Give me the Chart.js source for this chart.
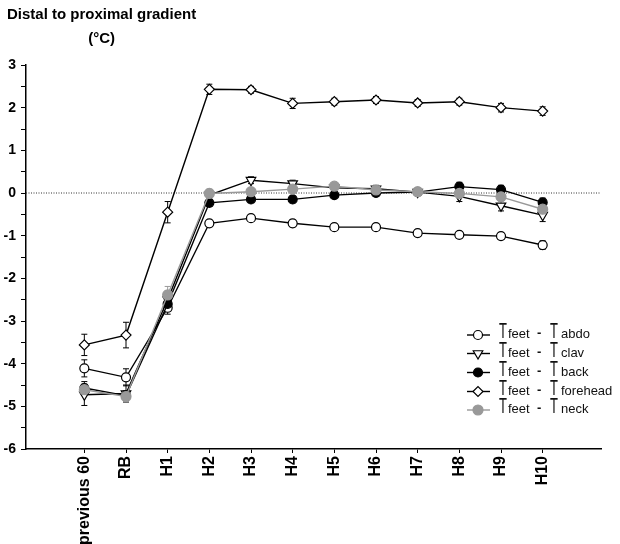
<!DOCTYPE html>
<html>
<head>
<meta charset="utf-8">
<script src="https://cdn.jsdelivr.net/npm/chart.js@4.4.0/dist/chart.umd.min.js"></script>
<style>
  html, body { margin: 0; padding: 0; background: #fff; }
  canvas { display: block; }
</style>
</head>
<body>
<canvas id="chart" width="620" height="544"></canvas>
<script>
// categories on the x axis
const categories = ['previous 60', 'RB', 'H1', 'H2', 'H3', 'H4', 'H5', 'H6', 'H7', 'H8', 'H9', 'H10'];
const titleLines = ['Distal to proximal gradient', '(°C)'];

// mean values (°C) and error bars
const abdo        = [-4.11, -4.32, -2.69, -0.71, -0.59, -0.71, -0.80, -0.80, -0.94, -0.98, -1.01, -1.22];
const abdoErr     = [0.20, 0.20, 0.15, 0.07, 0.05, 0.08, 0.06, 0.07, 0.06, 0.06, 0.08, 0.10];
const clav        = [-4.73, -4.70, -2.50, -0.05, 0.30, 0.22, 0.12, 0.10, 0.02, -0.08, -0.30, -0.52];
const clavErr     = [0.25, 0.20, 0.20, 0.10, 0.08, 0.08, 0.08, 0.08, 0.08, 0.12, 0.12, 0.15];
const back        = [-4.57, -4.75, -2.60, -0.23, -0.15, -0.15, -0.05, 0.00, 0.02, 0.15, 0.08, -0.22];
const backErr     = [0.15, 0.12, 0.12, 0.08, 0.07, 0.08, 0.07, 0.07, 0.08, 0.10, 0.10, 0.10];
const forehead    = [-3.56, -3.33, -0.45, 2.43, 2.42, 2.10, 2.14, 2.18, 2.11, 2.14, 2.00, 1.92];
const foreheadErr = [0.25, 0.30, 0.25, 0.12, 0.08, 0.12, 0.08, 0.08, 0.08, 0.08, 0.10, 0.10];
const neck        = [-4.61, -4.77, -2.39, -0.01, 0.03, 0.09, 0.16, 0.07, 0.03, -0.01, -0.09, -0.38];
const neckErr     = [0.12, 0.12, 0.20, 0.10, 0.08, 0.08, 0.08, 0.08, 0.08, 0.08, 0.08, 0.10];

const X_MIN = -1.4, X_MAX = 12.4;
const FONT = '"Liberation Sans", Arial, sans-serif';

function pts(vals) { return vals.map((v, i) => ({ x: i, y: v })); }

const series = [
  { sub: 'abdo',     data: abdo,     err: abdoErr,     style: 'circle',   rot: 0,   fill: '#fff', color: '#000', r: 4.5, order: 3 },
  { sub: 'clav',     data: clav,     err: clavErr,     style: 'triangle', rot: 180, fill: '#fff', color: '#000', r: 5.5, order: 2 },
  { sub: 'back',     data: back,     err: backErr,     style: 'circle',   rot: 0,   fill: '#000', color: '#000', r: 4.5, order: 1 },
  { sub: 'forehead', data: forehead, err: foreheadErr, style: 'rectRot',  rot: 0,   fill: '#fff', color: '#000', r: 5,   order: 4 },
  { sub: 'neck',     data: neck,     err: neckErr,     style: 'circle',   rot: 0,   fill: '#999', color: '#999', r: 5,   order: 0 }
];

const datasets = series.map(s => ({
  label: 'Tfeet - T' + s.sub,
  data: pts(s.data),
  errors: s.err,
  order: s.order,
  borderColor: s.color,
  borderWidth: 1.4,
  backgroundColor: s.fill,
  pointStyle: s.style,
  pointRotation: s.rot,
  pointRadius: s.r,
  pointBorderWidth: 1.2,
  pointBorderColor: s.color,
  pointBackgroundColor: s.fill,
  tension: 0
}));

// dotted zero reference line
datasets.push({
  label: 'zero',
  data: [{ x: X_MIN, y: 0 }, { x: X_MAX, y: 0 }],
  borderColor: '#333',
  borderWidth: 1,
  borderDash: [1, 1.5],
  pointRadius: 0,
  order: 10
});

const errorBars = {
  id: 'errorBars',
  beforeDatasetsDraw(chart) {
    const ctx = chart.ctx, xs = chart.scales.x, ys = chart.scales.y;
    chart.data.datasets.forEach(ds => {
      if (!ds.errors) return;
      ctx.save();
      ctx.strokeStyle = ds.borderColor;
      ctx.lineWidth = 1;
      ds.data.forEach((p, i) => {
        const x = xs.getPixelForValue(p.x);
        const y1 = ys.getPixelForValue(p.y + ds.errors[i]);
        const y2 = ys.getPixelForValue(p.y - ds.errors[i]);
        ctx.beginPath();
        ctx.moveTo(x, y1); ctx.lineTo(x, y2);
        ctx.moveTo(x - 3, y1); ctx.lineTo(x + 3, y1);
        ctx.moveTo(x - 3, y2); ctx.lineTo(x + 3, y2);
        ctx.stroke();
      });
      ctx.restore();
    });
  }
};

const titleText = {
  id: 'titleText',
  afterDraw(chart) {
    const ctx = chart.ctx;
    ctx.save();
    ctx.fillStyle = '#000';
    ctx.font = 'bold 15px ' + FONT;
    ctx.textAlign = 'left';
    ctx.fillText(titleLines[0], 7, 19);
    const w = ctx.measureText(titleLines[0]).width;
    ctx.textAlign = 'center';
    ctx.fillText(titleLines[1], 7 + w / 2, 43);
    ctx.restore();
  }
};

// legend with subscripts (Tfeet - Tx)
const subLegend = {
  id: 'subLegend',
  afterDraw(chart) {
    const ctx = chart.ctx;
    const rows = [338, 356.5, 375.5, 394.5, 413];
    ctx.save();
    series.forEach((s, i) => {
      const y = rows[i];
      ctx.strokeStyle = s.color;
      ctx.lineWidth = 1.4;
      ctx.beginPath();
      ctx.moveTo(467, y - 3); ctx.lineTo(490, y - 3);
      ctx.stroke();
      ctx.fillStyle = s.fill;
      ctx.lineWidth = 1.2;
      Chart.helpers.drawPoint(ctx, { pointStyle: s.style, rotation: s.rot, radius: s.r, borderWidth: 1.2 }, 478, y - 3);

      ctx.fillStyle = '#111';
      ctx.textAlign = 'left';
      ctx.textBaseline = 'alphabetic';
      const bigT = (x) => {
        ctx.save();
        ctx.translate(x, y);
        ctx.scale(1, 1.65);
        ctx.font = '13px ' + FONT;
        ctx.fillText('T', 0, 0);
        ctx.restore();
      };
      bigT(499);
      ctx.font = '13px ' + FONT;
      ctx.fillText('feet', 508, y);
      ctx.font = 'bold 13px ' + FONT;
      ctx.fillText('-', 537, y - 1);
      bigT(550);
      ctx.font = '13px ' + FONT;
      ctx.fillText(s.sub, 561, y);
    });
    ctx.restore();
  }
};

new Chart(document.getElementById('chart'), {
  type: 'line',
  data: { datasets },
  plugins: [errorBars, titleText, subLegend],
  options: {
    responsive: false,
    animation: false,
    layout: { padding: { top: 65, right: 19, left: 0, bottom: 0 } },
    plugins: { legend: { display: false }, tooltip: { enabled: false } },
    scales: {
      x: {
        type: 'linear',
        min: X_MIN,
        max: X_MAX,
        afterBuildTicks(s) { s.ticks = categories.map((c, i) => ({ value: i })); },
        afterFit(s) { s.height = 95; },
        border: { color: '#000', width: 1.5 },
        grid: { drawOnChartArea: false, color: '#000', tickLength: 4 },
        ticks: {
          autoSkip: false,
          minRotation: 90,
          maxRotation: 90,
          padding: 3,
          color: '#000',
          font: { family: FONT, size: 16, weight: 'bold' },
          callback: v => categories[v]
        }
      },
      y: {
        min: -6,
        max: 3,
        afterFit(s) { s.width = 26; },
        border: { color: '#000', width: 1.5 },
        grid: { drawOnChartArea: false, color: '#000', tickLength: 5 },
        ticks: {
          stepSize: 0.5,
          autoSkip: false,
          padding: 5,
          color: '#000',
          font: { family: FONT, size: 14, weight: 'bold' },
          callback: v => Number.isInteger(v) ? v : ''
        }
      }
    }
  }
});
</script>
</body>
</html>
